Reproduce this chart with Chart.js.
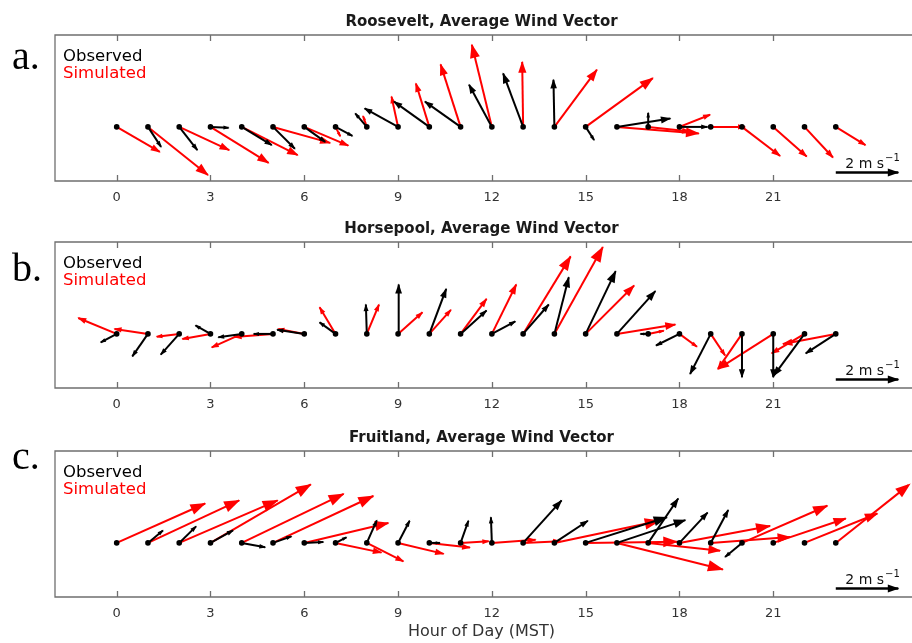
<!DOCTYPE html>
<html><head><meta charset="utf-8">
<script src="https://cdn.jsdelivr.net/npm/chart.js@4.4.1/dist/chart.umd.min.js"></script>
<style>
html,body{margin:0;padding:0;background:#fff}
body{width:912px;height:643px;overflow:hidden;position:relative}
canvas{position:absolute;left:0}
.lab{position:absolute;left:12px;font-family:"Liberation Serif","Times New Roman",serif;font-size:40px;line-height:40px;color:#000}
</style></head><body>
<canvas id="ca" width="912" height="206" style="top:0px"></canvas>
<canvas id="cb" width="912" height="206" style="top:207px"></canvas>
<canvas id="cc" width="912" height="227" style="top:416px"></canvas>
<div class="lab" style="top:36px">a.</div>
<div class="lab" style="top:248px">b.</div>
<div class="lab" style="top:436px">c.</div>
<script>
// ---- data (m/s, u = east, v = north) ----
const hours = [0,1,2,3,4,5,6,7,8,9,10,11,12,13,14,15,16,17,18,19,20,21,22,23];
const xTickValues = [0,3,6,9,12,15,18,21];
const refSpeed = 2;

const rooseveltObsU = [0,0.42,0.58,0.58,0.96,0.70,0.67,0.54,-0.37,-1.07,-1.13,-1.14,-0.73,-0.64,-0.03,0.27,1.71,0.00,0.90,0,0,0,0,0];
const rooseveltObsV = [0,-0.64,-0.74,-0.03,-0.58,-0.70,-0.48,-0.29,0.43,0.59,0.81,0.81,1.35,1.71,1.51,-0.42,0.27,0.45,0.00,0,0,0,0,0];
const rooseveltSimU = [1.38,1.92,1.60,1.86,1.79,1.83,1.41,0.15,-0.12,-0.21,-0.43,-0.64,-0.64,-0.03,1.36,2.15,2.62,1.34,0.98,1.10,1.22,1.07,0.91,0.95];
const rooseveltSimV = [-0.80,-1.54,-0.74,-1.15,-0.90,-0.51,-0.60,-0.30,0.35,0.97,1.39,2.00,2.63,2.08,1.83,1.56,-0.21,-0.15,0.39,0.00,-0.93,-0.95,-0.98,-0.58];

const horsepoolObsU = [-0.51,-0.50,-0.59,-0.48,-0.75,-0.62,-0.87,-0.51,-0.03,0.02,0.54,0.83,0.75,0.82,0.46,0.96,1.23,-0.25,-0.75,-0.66,0.00,0.00,-0.99,-0.96];
const horsepoolObsV = [-0.27,-0.72,-0.66,0.27,-0.11,0.00,0.13,0.37,0.94,1.58,1.44,0.75,0.40,0.94,1.81,2.01,1.37,0.00,-0.37,-1.28,-1.39,-1.39,-1.34,-0.62];
const horsepoolSimU = [-1.23,-1.07,-0.72,-0.90,-0.96,-1.25,-0.83,-0.51,0.39,0.78,0.69,0.83,0.78,1.52,1.55,1.55,1.87,0.50,0.56,0.46,-0.77,-1.76,-1.05,-1.69];
const horsepoolSimV = [0.51,0.16,-0.09,-0.16,-0.43,-0.10,0.16,0.85,0.94,0.69,0.77,1.12,1.58,2.48,2.78,1.55,0.30,0.10,-0.41,-0.69,-1.12,-1.12,-0.62,-0.32];

const fruitlandObsU = [0,0.48,0.54,0.72,0.75,0.59,0.61,0.35,0.32,0.37,0.34,0.25,-0.03,1.23,1.07,2.60,2.19,0.96,0.90,0.56,-0.54,0,0,0];
const fruitlandObsV = [0,0.40,0.53,0.40,-0.14,0.21,0.03,0.18,0.72,0.71,0.00,0.71,0.82,1.36,0.71,0.82,0.73,1.42,0.97,1.05,-0.45,0,0,0];
const fruitlandSimU = [2.83,2.92,3.15,3.21,3.26,3.21,2.69,1.47,1.17,1.46,1.30,0.90,1.40,1.20,3.37,2.93,3.39,2.30,2.90,2.54,2.73,2.32,2.33,2.37];
const fruitlandSimV = [1.26,1.36,1.36,1.87,1.57,1.50,0.64,-0.31,-0.59,-0.35,-0.15,0.05,0.10,0.05,0.71,0.04,-0.85,-0.25,0.54,0.19,1.19,0.78,0.94,1.88];

const titles = ["Roosevelt, Average Wind Vector","Horsepool, Average Wind Vector","Fruitland, Average Wind Vector"];
const legendLabels = ["Observed","Simulated"];
const xAxisTitle = "Hour of Day (MST)";

const OBS_COLOR = '#000000', SIM_COLOR = '#ff0000';

// ---- plugins ----
const arrowHeads = {
  id:'arrowHeads',
  afterDatasetDraw(chart, args){
    const ds = chart.data.datasets[args.index];
    if(!ds.isArrow) return;
    const pts = args.meta.data;
    if(pts.length < 2) return;
    const p0 = pts[0], p1 = pts[1];
    const dx = p1.x - p0.x, dy = p1.y - p0.y, len = Math.hypot(dx, dy);
    if(len < 2) return;
    const hl = Math.min(15, 3 + 0.12*len), hw = hl*0.38;
    const ux = dx/len, uy = dy/len;
    const ctx = chart.ctx;
    ctx.save();
    ctx.fillStyle = ds.borderColor;
    ctx.beginPath();
    ctx.moveTo(p1.x + ux*1, p1.y + uy*1);
    ctx.lineTo(p1.x - ux*hl - uy*hw, p1.y - uy*hl + ux*hw);
    ctx.lineTo(p1.x - ux*hl + uy*hw, p1.y - uy*hl - ux*hw);
    ctx.closePath();
    ctx.fill();
    ctx.restore();
  }
};

const frameAndText = {
  id:'frameAndText',
  afterDraw(chart){
    const {ctx, chartArea:a, scales:{x, y}} = chart;
    ctx.save();
    ctx.strokeStyle = '#6f6f6f';
    ctx.lineWidth = 1.3;
    ctx.beginPath();
    ctx.moveTo(912, a.top); ctx.lineTo(a.left, a.top);
    ctx.lineTo(a.left, a.bottom); ctx.lineTo(912, a.bottom);
    x.ticks.forEach(t => {
      const px = Math.round(x.getPixelForValue(t.value)) + 0.5;
      ctx.moveTo(px, a.top); ctx.lineTo(px, a.top + 6);
      ctx.moveTo(px, a.bottom); ctx.lineTo(px, a.bottom - 6);
    });
    ctx.stroke();
    // legend text
    ctx.font = '16.5px "DejaVu Sans"';
    ctx.textBaseline = 'alphabetic';
    ctx.textAlign = 'left';
    ctx.fillStyle = OBS_COLOR;
    ctx.fillText(legendLabels[0], a.left + 8, a.top + 26);
    ctx.fillStyle = SIM_COLOR;
    ctx.fillText(legendLabels[1], a.left + 8, a.top + 43);
    // reference arrow label
    const rx = x.getPixelForValue(23), ry = y.getPixelForValue(-1.46);
    ctx.fillStyle = '#111';
    ctx.font = '14px "DejaVu Sans"';
    const main = refSpeed + ' m s';
    ctx.fillText(main, rx + 9.5, ry - 4.5);
    const w = ctx.measureText(main).width;
    ctx.font = '10px "DejaVu Sans"';
    ctx.fillText('\u22121', rx + 9.5 + w + 1, ry - 12);
    ctx.restore();
  }
};

function arrowDataset(x0, y0, u, v, color, width){
  return {
    data:[{x:x0, y:y0},{x:x0 + u, y:y0 + v}],
    showLine:true, borderColor:color, backgroundColor:color,
    borderWidth:width, pointRadius:0, pointHoverRadius:0, isArrow:true
  };
}

function makePanel(id, title, obsU, obsV, simU, simV, withXTitle){
  const datasets = [];
  datasets.push({
    data: hours.map(h => ({x:h, y:0})),
    pointRadius:2.8, pointBackgroundColor:'#000', pointBorderWidth:0, showLine:false
  });
  datasets.push(arrowDataset(23, -1.46, refSpeed, 0, '#000', 2.6));
  hours.forEach((h,i) => datasets.push(arrowDataset(h, 0, obsU[i], obsV[i], OBS_COLOR, 2)));
  hours.forEach((h,i) => datasets.push(arrowDataset(h, 0, simU[i], simV[i], SIM_COLOR, 2)));

  const scaleHeight = withXTitle ? 46 : 25;
  new Chart(document.getElementById(id), {
    type:'scatter',
    data:{datasets},
    options:{
      responsive:false, animation:false, devicePixelRatio:1,
      layout:{padding:{left:55, right:0, top:0, bottom:0}},
      plugins:{
        legend:{display:false}, tooltip:{enabled:false},
        title:{display:true, text:title, fullSize:false, color:'#1a1a1a',
          font:{family:'DejaVu Sans', size:15, weight:'bold'}, padding:{top:13, bottom:4}}
      },
      scales:{
        x:{type:'linear', min:-1.973, max:25.31,
          grid:{display:false, drawTicks:false}, border:{display:false},
          afterBuildTicks: s => { s.ticks = xTickValues.map(v => ({value:v})); },
          afterFit: s => { s.height = scaleHeight; },
          ticks:{color:'#333', font:{family:'DejaVu Sans', size:13}, padding:9, maxRotation:0, autoSkip:false},
          title:{display:withXTitle, text:xAxisTitle, color:'#333',
            font:{family:'DejaVu Sans', size:16}, padding:{top:0, bottom:2}}
        },
        y:{type:'linear', display:false, min:-1.73, max:2.94}
      }
    },
    plugins:[arrowHeads, frameAndText]
  });
}

makePanel('ca', titles[0], rooseveltObsU, rooseveltObsV, rooseveltSimU, rooseveltSimV, false);
makePanel('cb', titles[1], horsepoolObsU, horsepoolObsV, horsepoolSimU, horsepoolSimV, false);
makePanel('cc', titles[2], fruitlandObsU, fruitlandObsV, fruitlandSimU, fruitlandSimV, true);
</script>
</body></html>
